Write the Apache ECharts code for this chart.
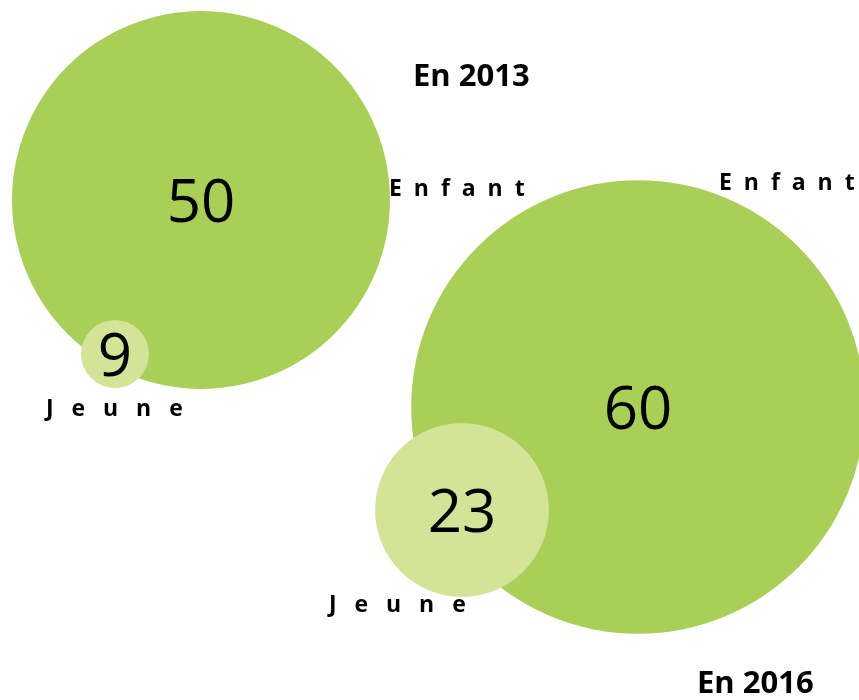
<!DOCTYPE html>
<html>
<head>
<meta charset="utf-8">
<script src="https://cdn.jsdelivr.net/npm/echarts@6/dist/echarts.min.js"></script>
<style>
html, body { margin: 0; padding: 0; background: #fff; }
#chart { width: 859px; height: 700px; }
</style>
</head>
<body>
<div id="chart"></div>
<script>
var years = ['En 2013', 'En 2016'];
var categories = ['Enfant', 'Jeune'];
var enfant = [50, 60];
var jeune = [9, 23];

// layout: bubble centres on a hidden pixel-like plane
var enfantPos = [[201, 200], [638, 407]];
var jeunePos = [[115, 354], [462, 510]];
var sizePerUnit = 7.56;

function spaced(s, gap) {
    return s.split('').join(gap);
}

function pts(pos, vals) {
    var out = [];
    for (var i = 0; i < vals.length; i++) {
        out.push({ name: years[i], value: [pos[i][0], pos[i][1], vals[i]] });
    }
    return out;
}

var e = echarts.init(document.getElementById('chart'));
var numLabel = {
    show: true,
    position: 'inside',
    offset: [0, 5],
    formatter: function (p) { return p.value[2]; },
    color: '#000',
    fontFamily: 'Open Sans',
    fontSize: 60
};
var yearFont = 'bold 31px "Open Sans"';
var nameFont = 'bold 23px "Open Sans"';
var a = {
    animation: false,
    grid: { left: 0, right: 0, top: 0, bottom: 0 },
    xAxis: { type: 'value', min: 0, max: 859, show: false },
    yAxis: { type: 'value', min: 0, max: 700, inverse: true, show: false },
    series: [{
        name: categories[0],
        type: 'scatter',
        data: pts(enfantPos, enfant),
        symbolSize: function (v) { return v[2] * sizePerUnit; },
        itemStyle: { color: '#aacf58', opacity: 1 },
        label: numLabel
    }, {
        name: categories[1],
        type: 'scatter',
        data: pts(jeunePos, jeune),
        symbolSize: function (v) { return v[2] * sizePerUnit; },
        itemStyle: { color: '#d3e398', opacity: 1 },
        label: numLabel
    }],
    graphic: [
        { type: 'text', left: 413, top: 62, style: { text: years[0], font: yearFont, fill: '#000' } },
        { type: 'text', left: 697, top: 669, style: { text: years[1], font: yearFont, fill: '#000' } },
        { type: 'text', left: 389, top: 178, style: { text: spaced(categories[0], '  '), font: nameFont, fill: '#000' } },
        { type: 'text', left: 719, top: 172, style: { text: spaced(categories[0], '  '), font: nameFont, fill: '#000' } },
        { type: 'text', left: 46, top: 398, style: { text: spaced(categories[1], '   '), font: nameFont, fill: '#000' } },
        { type: 'text', left: 329, top: 594, style: { text: spaced(categories[1], '   '), font: nameFont, fill: '#000' } }
    ]
};
e.setOption(a);
window.addEventListener('resize', e.resize);
</script>
</body>
</html>
